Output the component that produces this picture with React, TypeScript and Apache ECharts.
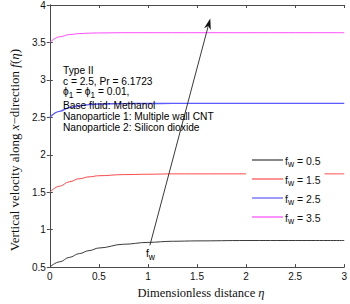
import React, { useEffect, useRef } from "react";
import * as echarts from "echarts";

const eta = [0, 0.1, 0.2, 0.3, 0.4, 0.5, 0.75, 1, 1.25, 1.5, 2, 2.5, 3];
const fw05 = [0.5, 0.57, 0.63, 0.68, 0.72, 0.755, 0.805, 0.83, 0.845, 0.85, 0.855, 0.855, 0.855];
const fw15 = [1.5, 1.58, 1.64, 1.68, 1.705, 1.72, 1.735, 1.74, 1.745, 1.745, 1.745, 1.745, 1.745];
const fw25 = [2.5, 2.58, 2.63, 2.655, 2.67, 2.678, 2.683, 2.685, 2.686, 2.686, 2.686, 2.686, 2.686];
const fw35 = [3.5, 3.575, 3.605, 3.618, 3.624, 3.627, 3.63, 3.63, 3.63, 3.63, 3.63, 3.63, 3.63];
const seriesNames = ["0.5", "1.5", "2.5", "3.5"];
const seriesData = [fw05, fw15, fw25, fw35];
const seriesColors = ["#3a3a3a", "#ff4a4a", "#5a5aff", "#ff4aff"];
const seriesWidths = [1, 1, 1.4, 1];
const xTicks = { min: 0, max: 3, interval: 0.5 };
const yTicks = { min: 0.5, max: 4, interval: 0.5 };
const arrowStart = [1.02, 0.79];
const arrowEnd = [1.635, 3.82];
const noteLines = [
  "Type II",
  "c = 2.5, Pr = 6.1723",
  "ϕ{s|1} = ϕ{s|1} = 0.01,",
  "Base fluid: Methanol",
  "Nanoparticle 1: Multiple wall CNT",
  "Nanoparticle 2: Silicon dioxide",
];

const SANS = "'Liberation Sans', Arial, Helvetica, sans-serif";
const SERIF = "'Liberation Serif', 'Times New Roman', serif";
const AX = "#4a4a4a";

export default function App() {
  const ref = useRef<HTMLDivElement>(null);
  useEffect(() => {
    if (!ref.current) return;
    const chart = echarts.init(ref.current, undefined, { renderer: "svg" });
    const subRich = {
      m: { fontSize: 10.5, fontFamily: SANS, color: "#111", lineHeight: 10, verticalAlign: "top" },
      s: { fontSize: 8.5, fontFamily: SANS, color: "#111", lineHeight: 9, padding: [5, 0, 0, 0], verticalAlign: "top" },
    };
    const noteRich = {
      m: { fontSize: 10.2, fontFamily: SANS, color: "#111", lineHeight: 10, verticalAlign: "top" },
      s: { fontSize: 8.2, fontFamily: SANS, color: "#111", lineHeight: 9, padding: [5, 0, 0, 0], verticalAlign: "top" },
    };
    const axisCommon = {
      axisLine: { show: true, lineStyle: { color: AX, width: 1 } },
      axisTick: { show: true, inside: true, length: 3, lineStyle: { color: AX } },
      splitLine: { show: false },
    };
    const option: any = {
      animation: false,
      backgroundColor: "#fff",
      grid: { left: 35, right: 3, top: 5, bottom: 29, containLabel: false },
      legend: {
        show: true,
        orient: "vertical",
        left: 246,
        top: 151,
        padding: [4, 4, 4, 6],
        backgroundColor: "#fff",
        icon: "rect",
        itemWidth: 31,
        itemHeight: 1.2,
        itemGap: 5,
        data: seriesNames.map((n) => "f = " + n),
        formatter: (name: string) => "{m|f}{s|w}{m| " + name.slice(2) + "}",
        textStyle: { rich: subRich, padding: [0, 0, 0, -3] },
      },
      xAxis: [
        {
          type: "value",
          position: "bottom",
          ...xTicks,
          ...axisCommon,
          axisLabel: { color: "#111", fontSize: 10, fontFamily: SANS, margin: 4 },
          name: "Dimensionless distance {i|η}",
          nameLocation: "middle",
          nameGap: 11,
          nameTextStyle: {
            fontFamily: SERIF,
            fontSize: 12.5,
            color: "#111",
            verticalAlign: "top",
            padding: [0, 0, 0, 8],
            rich: { i: { fontFamily: SERIF, fontStyle: "italic", fontSize: 12.5, color: "#111" } },
          },
        },
        {
          type: "value",
          position: "top",
          ...xTicks,
          ...axisCommon,
          axisLabel: { show: false },
        },
      ],
      yAxis: [
        {
          type: "value",
          position: "left",
          ...yTicks,
          ...axisCommon,
          axisLabel: { color: "#111", fontSize: 10, fontFamily: SANS, margin: 4 },
          name: "Vertical velocity along {i|x}−direction {i|f}({i|η})",
          nameLocation: "middle",
          nameGap: 24,
          nameTextStyle: {
            fontFamily: SERIF,
            fontSize: 13,
            color: "#111",
            padding: [0, 28, 0, 0],
            rich: { i: { fontFamily: SERIF, fontStyle: "italic", fontSize: 13, color: "#111" } },
          },
        },
        {
          type: "value",
          position: "right",
          ...yTicks,
          ...axisCommon,
          axisLabel: { show: false },
        },
      ],
      series: seriesData.map((d, k) => ({
        name: "f = " + seriesNames[k],
        type: "line",
        xAxisIndex: 0,
        yAxisIndex: 0,
        symbol: "none",
        smooth: 0.4,
        smoothMonotone: "x",
        data: eta.map((x, i) => [x, d[i]]),
        lineStyle: { color: seriesColors[k], width: seriesWidths[k] },
        itemStyle: { color: seriesColors[k] },
        z: 2,
      })),
    };
    chart.setOption(option);

    const p0 = chart.convertToPixel({ gridIndex: 0 }, arrowStart) as number[];
    const p1 = chart.convertToPixel({ gridIndex: 0 }, arrowEnd) as number[];
    const dx = p1[0] - p0[0];
    const dy = p1[1] - p0[1];
    const len = Math.sqrt(dx * dx + dy * dy);
    const ux = dx / len;
    const uy = dy / len;
    const nx = -uy;
    const ny = ux;
    const hl = 11;
    const hw = 3.5;
    const back = [p1[0] - ux * hl, p1[1] - uy * hl];
    const notch = [p1[0] - ux * hl * 0.7, p1[1] - uy * hl * 0.7];
    const lineTop = [p1[0] - ux * hl * 0.75, p1[1] - uy * hl * 0.75];

    const graphics: any[] = [
      {
        type: "line",
        shape: { x1: p0[0], y1: p0[1], x2: lineTop[0], y2: lineTop[1] },
        style: { stroke: "#222", lineWidth: 0.9 },
        z: 10,
      },
      {
        type: "polygon",
        shape: {
          points: [
            [p1[0], p1[1]],
            [back[0] + nx * hw, back[1] + ny * hw],
            [notch[0], notch[1]],
            [back[0] - nx * hw, back[1] - ny * hw],
          ],
        },
        style: { fill: "#111" },
        z: 10,
      },
      {
        type: "text",
        x: p0[0] - 4,
        y: p0[1] + 2,
        style: { text: "{m|f}{s|w}", rich: subRich },
        z: 10,
      },
    ];
    const noteY = [65, 76, 86.5, 100.5, 111.5, 122.5];
    noteLines.forEach((t, i) => {
      graphics.push({
        type: "text",
        x: 63,
        y: noteY[i],
        style: {
          text: "{m|" + t.replace(/\{s\|1\}/g, "}{s|1}{m|") + "}",
          rich: noteRich,
        },
        z: 10,
      });
    });
    chart.setOption({ graphic: graphics });
    return () => chart.dispose();
  }, []);
  return (
    <div
      ref={ref}
      style={{ position: "fixed", left: 0, top: 0, width: 350, height: 304, background: "#fff" }}
    />
  );
}
